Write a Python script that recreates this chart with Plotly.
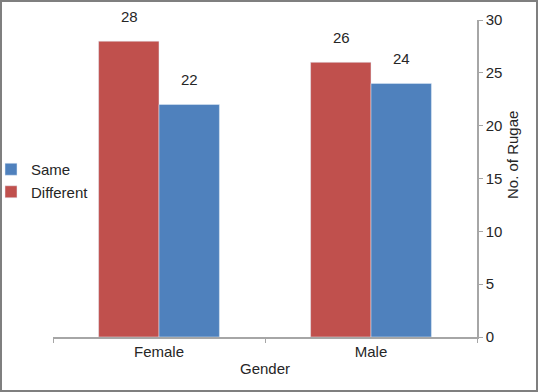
import plotly.graph_objects as go

categories = ["Female", "Male"]
different = [28, 26]
same = [22, 24]

W, H = 538, 392
L, R, T, B = 53, 61, 20, 55
PW, PH = W - L - R, H - T - B

def px_x(px):
    return (px - L) / PW

def px_y(py):
    return (H - B - py) / PH

RED = "#C0504D"
BLUE = "#4F81BD"
TXT = "#262626"
FONT = "Liberation Sans, Arial, sans-serif"

fig = go.Figure()
fig.add_trace(go.Bar(name="Different", x=categories, y=different, marker_color=RED))
fig.add_trace(go.Bar(name="Same", x=categories, y=same, marker_color=BLUE))

annotations = []
for cat, v in zip(categories, different):
    annotations.append(dict(x=cat, y=v, text=str(v), showarrow=False, xshift=-30,
                            yshift=25, yanchor="middle", font=dict(size=15, color=TXT)))
for cat, v in zip(categories, same):
    annotations.append(dict(x=cat, y=v, text=str(v), showarrow=False, xshift=30,
                            yshift=25, yanchor="middle", font=dict(size=15, color=TXT)))
# y-axis title (placed like the reference, above the axis centre)
annotations.append(dict(xref="paper", yref="paper", x=px_x(512), y=px_y(155),
                        text="No. of Rugae", textangle=-90, showarrow=False,
                        xanchor="center", yanchor="middle",
                        font=dict(size=15, color=TXT)))

fig.update_layout(
    width=W, height=H,
    margin=dict(l=L, r=R, t=T, b=B, autoexpand=False),
    paper_bgcolor="white", plot_bgcolor="white",
    font=dict(family=FONT, size=15, color=TXT),
    barmode="group", bargap=0.43, bargroupgap=0,
    showlegend=True,
    legend=dict(x=px_x(-9), y=px_y(153), xanchor="left", yanchor="top",
                traceorder="reversed", bgcolor="rgba(0,0,0,0)",
                font=dict(size=15, color=TXT), tracegroupgap=0),
    xaxis=dict(showline=True, linecolor="#A6A6A6", linewidth=1.5,
               ticks="outside", ticklen=4, tickcolor="#A6A6A6", tickson="boundaries",
               showgrid=False, zeroline=False,
               title=dict(text="Gender", font=dict(size=15, color=TXT), standoff=5)),
    yaxis=dict(side="right", range=[0, 30], dtick=5, showline=True, linecolor="#A6A6A6",
               linewidth=1.5, ticks="outside", ticklen=4, tickcolor="#A6A6A6",
               showgrid=False, zeroline=False),
    annotations=annotations,
    shapes=[dict(type="rect", xref="paper", yref="paper",
                 x0=px_x(1), x1=px_x(537), y0=px_y(391), y1=px_y(1),
                 line=dict(color="#7F7F7F", width=2), layer="above")],
)

fig.write_html("out.html", config={"displayModeBar": False},
               post_script="document.body.style.margin='0';")
